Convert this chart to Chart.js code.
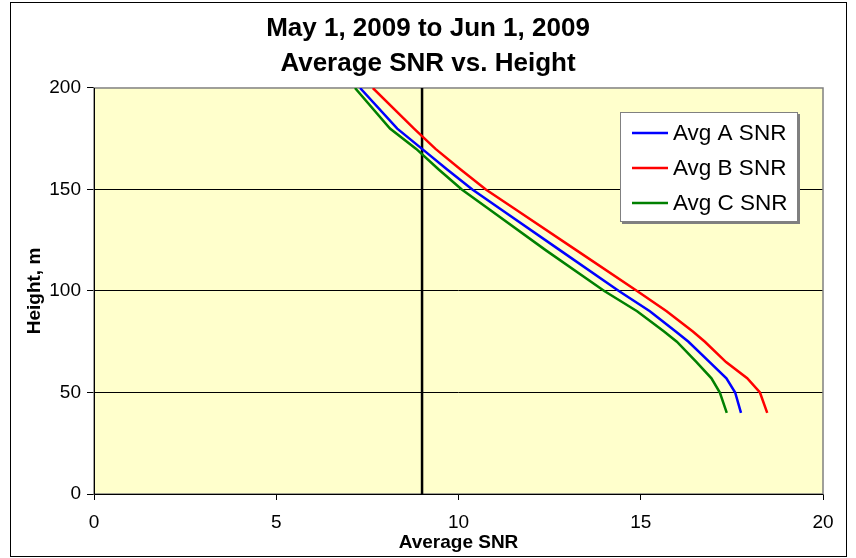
<!DOCTYPE html>
<html>
<head>
<meta charset="utf-8">
<script src="https://cdn.jsdelivr.net/npm/chart.js@4"></script>
<style>
  html, body { margin: 0; padding: 0; background: #ffffff; }
  #wrap { width: 856px; height: 558px; position: relative; }
</style>
</head>
<body>
<div id="wrap"><canvas id="c" width="856" height="558"></canvas></div>
<script>
// ---- data ----
const titleLines = ['May 1, 2009 to Jun 1, 2009', 'Average SNR vs. Height'];
const xAxisTitle = 'Average SNR';
const yAxisTitle = 'Height, m';
const heights = [40, 50, 57, 65, 75, 80, 90, 100, 120, 140, 150, 160, 170, 180, 200];
const avgA = [17.75, 17.59, 17.35, 16.89, 16.31, 15.96, 15.25, 14.40, 12.79, 11.18, 10.38, 9.68, 9.00, 8.32, 7.30];
const avgB = [18.47, 18.27, 17.92, 17.34, 16.76, 16.43, 15.71, 14.90, 13.24, 11.58, 10.75, 10.05, 9.37, 8.78, 7.65];
const avgC = [17.36, 17.17, 16.94, 16.53, 15.99, 15.64, 14.90, 14.00, 12.40, 10.86, 10.09, 9.45, 8.84, 8.12, 7.16];
const seriesLabels = ['Avg A SNR', 'Avg B SNR', 'Avg C SNR'];
const markerX = [9, 9];
const markerY = [0, 200];
const xTicks = [0, 5, 10, 15, 20];
const yTicks = [0, 50, 100, 150, 200];

const FONT = "'Liberation Sans', Arial, sans-serif";
const pts = (xs, ys) => xs.map((x, i) => ({ x: x, y: ys[i] }));

const plotBg = {
  id: 'plotBg',
  beforeDraw(chart) {
    const { ctx, chartArea: a } = chart;
    ctx.save();
    ctx.fillStyle = '#ffffff';
    ctx.fillRect(0, 0, chart.width, chart.height);
    ctx.fillStyle = '#FFFFCC';
    ctx.fillRect(a.left, a.top, a.right - a.left, a.bottom - a.top);
    ctx.strokeStyle = '#000000';
    ctx.lineWidth = 1;
    ctx.strokeRect(10.5, 2.5, 836, 554);
    ctx.restore();
  },
  beforeDatasetsDraw(chart) {
    const { ctx, chartArea: a } = chart;
    ctx.save();
    ctx.strokeStyle = '#808080';
    ctx.lineWidth = 1.5;
    ctx.strokeRect(a.left, a.top, a.right - a.left, a.bottom - a.top);
    ctx.strokeStyle = '#000000';
    ctx.lineWidth = 1;
    ctx.beginPath();
    ctx.moveTo(a.left + 0.5, a.top);
    ctx.lineTo(a.left + 0.5, a.bottom + 0.5);
    ctx.lineTo(a.right, a.bottom + 0.5);
    ctx.stroke();
    ctx.restore();
  }
};

const boxLegend = {
  id: 'boxLegend',
  afterDatasetsDraw(chart) {
    const { ctx } = chart;
    const x0 = 620, y0 = 112, w = 178, h = 110;
    ctx.save();
    ctx.fillStyle = '#808080';
    ctx.fillRect(x0 + 2, y0 + 2, w, h);
    ctx.fillStyle = '#ffffff';
    ctx.fillRect(x0, y0, w, h);
    ctx.strokeStyle = '#808080';
    ctx.lineWidth = 1;
    ctx.strokeRect(x0 + 0.5, y0 + 0.5, w - 1, h - 1);
    const rows = [133, 168, 203];
    chart.data.datasets.slice(0, 3).forEach((ds, i) => {
      ctx.strokeStyle = ds.borderColor;
      ctx.lineWidth = 2.5;
      ctx.beginPath();
      ctx.moveTo(632, rows[i]);
      ctx.lineTo(668, rows[i]);
      ctx.stroke();
      ctx.fillStyle = '#000000';
      ctx.font = '22.5px ' + FONT;
      ctx.textBaseline = 'middle';
      ctx.textAlign = 'left';
      ctx.fillText(ds.label, 673, rows[i] + 1);
    });
    ctx.restore();
  }
};

new Chart(document.getElementById('c'), {
  type: 'scatter',
  data: {
    datasets: [
      { label: seriesLabels[0], data: pts(avgA, heights), borderColor: '#0000FF', backgroundColor: '#0000FF', showLine: true, borderWidth: 2.5, pointRadius: 0, tension: 0 },
      { label: seriesLabels[1], data: pts(avgB, heights), borderColor: '#FF0000', backgroundColor: '#FF0000', showLine: true, borderWidth: 2.5, pointRadius: 0, tension: 0 },
      { label: seriesLabels[2], data: pts(avgC, heights), borderColor: '#008000', backgroundColor: '#008000', showLine: true, borderWidth: 2.5, pointRadius: 0, tension: 0 },
      { label: '', data: pts(markerX, markerY), borderColor: '#000000', backgroundColor: '#000000', showLine: true, borderWidth: 2.5, pointRadius: 0 }
    ]
  },
  options: {
    responsive: false,
    animation: false,
    devicePixelRatio: 1,
    layout: { padding: { left: 0, right: 0, top: 0, bottom: 0 } },
    plugins: {
      legend: { display: false },
      tooltip: { enabled: false },
      title: {
        display: true,
        text: titleLines,
        color: '#000000',
        font: { family: FONT, size: 26, weight: 'bold', lineHeight: 1.346 },
        padding: { top: 11.5, bottom: 6.5 }
      }
    },
    scales: {
      x: {
        type: 'linear',
        min: 0, max: 20,
        afterFit(s) { s.height = 64; },
        afterBuildTicks(s) { s.ticks = xTicks.map(v => ({ value: v })); },
        grid: { drawOnChartArea: false, color: '#000000', tickColor: '#000000', tickLength: 6, lineWidth: 1 },
        border: { display: false },
        ticks: { color: '#000000', font: { family: FONT, size: 19, lineHeight: 1.2 }, padding: 11, maxRotation: 0 },
        title: { display: true, text: xAxisTitle, color: '#000000', font: { family: FONT, size: 19, weight: 'bold', lineHeight: 1.2 }, padding: { top: 0, bottom: 3.6 } }
      },
      y: {
        type: 'linear',
        min: 0, max: 200,
        afterFit(s) { s.width = 94; },
        afterBuildTicks(s) { s.ticks = yTicks.map(v => ({ value: v })); },
        grid: {
          color: (c) => (c.tick && (c.tick.value === 0 || c.tick.value === 200)) ? 'rgba(0,0,0,0)' : '#000000',
          tickColor: '#000000', tickLength: 7, lineWidth: 1
        },
        border: { display: false },
        ticks: { color: '#000000', font: { family: FONT, size: 19 }, padding: 6 },
        title: { display: true, text: yAxisTitle, color: '#000000', font: { family: FONT, size: 19, weight: 'bold', lineHeight: 1.2 }, padding: { top: 23.6, bottom: 0 } }
      },
      yRightSpace: {
        type: 'linear',
        position: 'right',
        min: 0, max: 200,
        afterFit(s) { s.width = 33; },
        grid: { display: false },
        border: { display: false },
        ticks: { display: false }
      }
    }
  },
  plugins: [plotBg, boxLegend]
});
</script>
</body>
</html>
